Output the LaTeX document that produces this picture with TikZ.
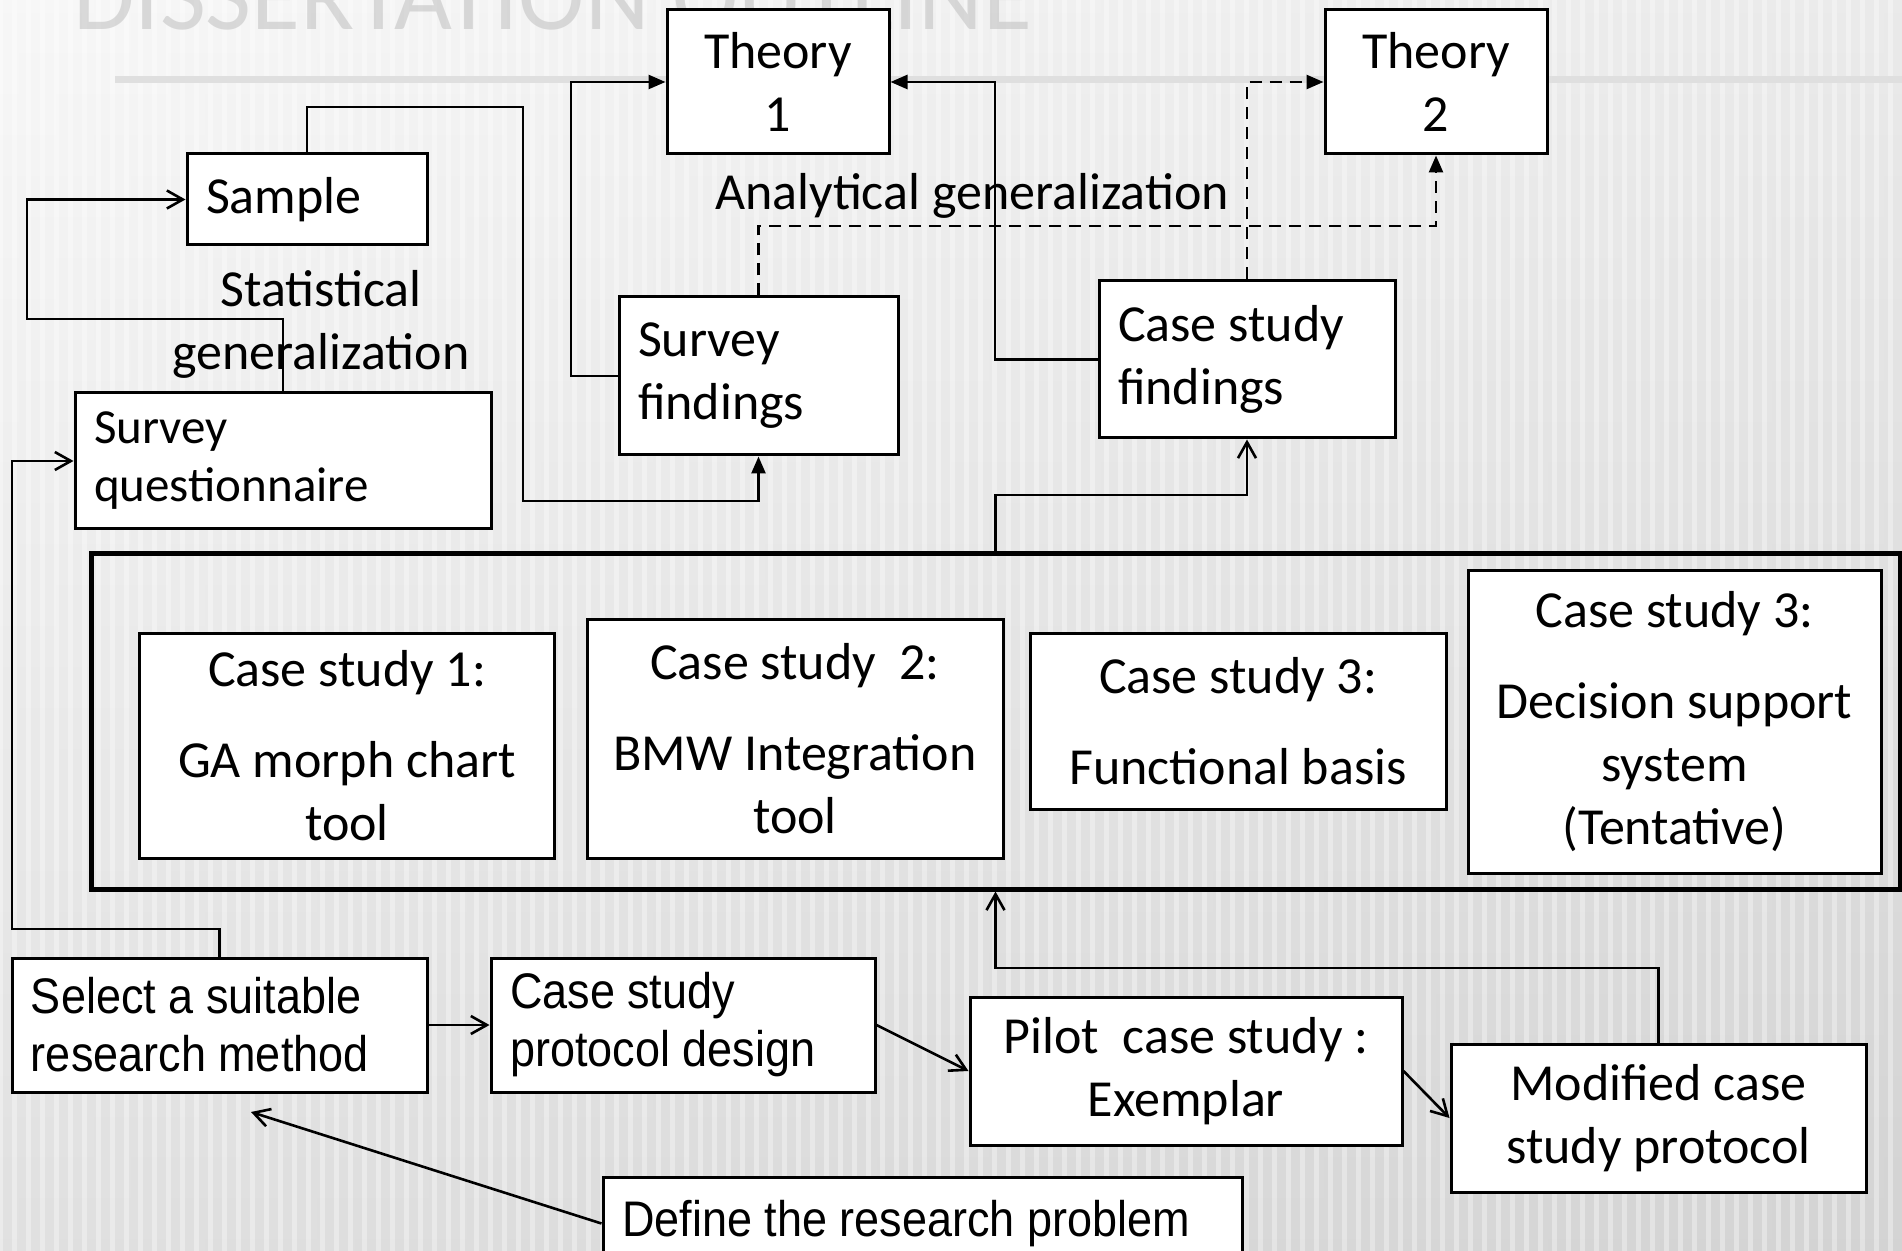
\documentclass[tikz,border=0pt]{standalone}
\usepackage{fontspec}
\setmainfont{Carlito}
\newfontfamily\narrowf[FakeStretch=0.9]{Liberation Sans}
\usetikzlibrary{arrows.meta}
\newcommand{\fntA}{\fontsize{26}{31.5}\selectfont}
\newcommand{\fntQ}{\fontsize{24.5}{29}\selectfont}
\newcommand{\fntN}{\narrowf\fontsize{25}{29}\selectfont}
\begin{document}
\begin{tikzpicture}[x=0.5pt,y=-0.5pt,
  box/.style={draw, line width=1.5pt, fill=white, inner sep=0pt, font=\fntA},
  lbox/.style={box, align=flush left, inner xsep=9.5pt},
  cbox/.style={box, align=center},
  conn/.style={line width=1.3pt},
  fa/.style={conn, -{Triangle[length=8.5pt,width=7pt]}},
  oa/.style={conn, -{Straight Barb[length=8pt,width=9pt]}},
  dsh/.style={dash pattern=on 6pt off 4pt},
  lbl/.style={font=\fntA, inner sep=0pt, align=center}
]
\useasboundingbox (0,0) rectangle (1902,1251);
\clip (0,0) rectangle (1902,1251);
% background
\shade[top color=gray!8, bottom color=gray!32] (0,0) rectangle (1902,1251);
\shade[left color=white, right color=gray!40, opacity=0.25] (0,0) rectangle (1902,1251);
\foreach \i in {0,14,...,1902} \draw[white, opacity=0.35, line width=2.5pt] (\i,0) -- (\i,1251);
\draw[gray!25, line width=3.5pt] (115,80) -- (1902,80);
\node[anchor=base west, inner sep=0pt, text=gray!50, opacity=0.55, font=\fontsize{50}{50}\selectfont] (title) at (73,30) {DISSERTATION OUTLINE};

% nodes
\node[cbox, minimum width=111pt, minimum height=72pt] (t1) at (778,82) {Theory\\1};
\node[cbox, minimum width=111pt, minimum height=72pt] (t2) at (1436,82) {Theory\\2};
\node[lbox, text width=101pt, minimum height=45.5pt] (sample) at (307,199.5) {Sample};
\node[lbox, font=\fntQ, text width=189pt, minimum height=68pt] (sq) at (283,461) {Survey\\questionnaire};
\node[lbox, text width=120.5pt, minimum height=79pt] (sf) at (758.5,376) {Survey\\findings};
\node[lbox, text width=129pt, minimum height=78.5pt] (cf) at (1247,359.5) {Case study\\findings};
\node[draw, line width=2.5pt, minimum width=904.5pt, minimum height=167.5pt, inner sep=0pt] (cases) at (995.5,721.5) {};
\node[cbox, minimum width=207.5pt, minimum height=112.5pt] (cs1) at (347,745.5) {Case study 1:\\[14pt]GA morph chart\\tool};
\node[cbox, minimum width=208pt, minimum height=119.5pt] (cs2) at (795,738.5) {Case study~ 2:\\[14pt]BMW Integration\\tool};
\node[cbox, minimum width=208pt, minimum height=88pt] (cs3) at (1238,721) {Case study 3:\\[14pt]Functional basis};
\node[cbox, minimum width=206.5pt, minimum height=151pt] (cs4) at (1674.5,722) {Case study 3:\\[14pt]Decision support\\system\\(Tentative)};
\node[lbox, font=\fntN, text width=188.5pt, minimum height=67pt] (sel) at (219.5,1025) {Select a suitable\\research method};
\node[lbox, font=\fntN, text width=173pt, minimum height=67pt] (prot) at (683,1025) {Case study\\protocol design};
\node[cbox, minimum width=216pt, minimum height=74pt] (pilot) at (1186,1071) {Pilot~ case study :\\Exemplar};
\node[cbox, minimum width=207.5pt, minimum height=74pt] (mod) at (1658.5,1118) {Modified case\\study protocol};
\node[lbox, font=\fntN, text width=300.5pt, minimum height=46.5pt] (def) at (922.5,1223.5) {Define the research problem};
\coordinate (selb) at (251,1112);

% labels
\node[lbl] (stat) at (321,324) {Statistical\\generalization};
\node[lbl] (anal) at (972,196) {Analytical generalization};

% connectors
\draw[fa] (sample.north) -- (sample.north |- 0,107) -- (523,107) -- (523,501) -| (sf.south);
\draw[oa] (sq.north) -- (sq.north |- 0,319) -- (27,319) |- (sample.west);
\draw[fa] (sf.west) -- (571,376) |- (t1.west);
\draw[fa] (cf.west) -- (995,359.5) |- (t1.east);
\draw[fa, dsh] (sf.north) -- (sf.north |- 0,226) -| (t2.south);
\draw[fa, dsh] (cf.north) |- (t2.west);
\draw[oa] (cases.north) -- (cases.north |- 0,495) -| (cf.south);
\draw[oa] (sel.north) -- (sel.north |- 0,929) -- (12,929) |- (sq.west);
\draw[oa] (sel.east) -- (prot.west);
\draw[oa] (prot.east) -- (pilot.west);
\draw[oa] (pilot.east) -- (mod.west);
\draw[oa] (mod.north) -- (mod.north |- 0,968) -| (cases.south);
\draw[oa] (def.west) -- (selb);
\end{tikzpicture}
\end{document}
